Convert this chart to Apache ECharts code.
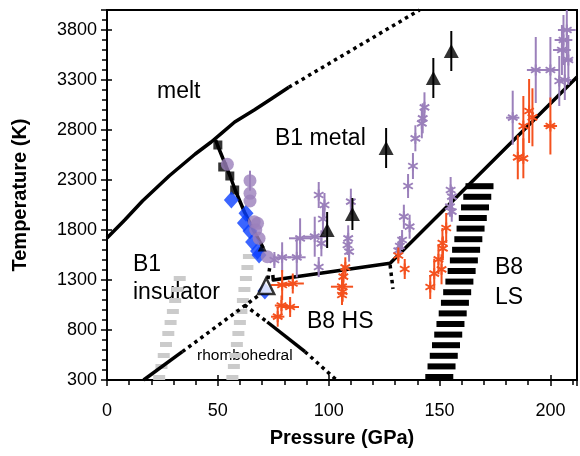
<!DOCTYPE html>
<html><head><meta charset="utf-8">
<script src="https://cdn.jsdelivr.net/npm/echarts@6/dist/echarts.min.js"></script>
<style>html,body{margin:0;padding:0;background:#fff}#c{width:580px;height:456px}</style>
</head><body><div id="c"></div>
<script>
// ---- axis ----
const xTicks = [0, 50, 100, 150, 200];
const yTicks = [300, 800, 1300, 1800, 2300, 2800, 3300, 3800];

// ---- phase boundaries [P (GPa), T (K)] ----
const meltSolid = [[0,1720],[8,1900],[16,2090],[28,2340],[39.8,2560],[47,2680],[51.6,2767],[57.6,2880],[66.4,3000],[74,3110],[82,3227]];
const meltDotted = [[82,3227],[141,4000]];
const b1b8Solid = [[74.8,1350],[75,1300],[127.7,1467],[212,3330]];
const b8Dotted = [[127.7,1450],[129,1210]];
const triDotted = [[72.6,1310],[73.5,1440]];
const rhombASolid = [[16.5,300],[34,583]];
const rhombADotted = [[34,583],[70.5,1180]];
const rhombBDotted1 = [[62,1050],[72.3,880]];
const rhombBSolid = [[72.3,880],[89.3,583]];
const rhombBDotted2 = [[89.3,583],[103.5,300]];
// hatched bands: [P start, T start, P end, T end]
const grayBands = [[23.3,300,33.6,1400],[56.4,300,64.6,1630]];
const blackBands = [[149.6,300,168.8,2320]];

// ---- data points ----
const blackLine = [[49,2700],[50,2640],[55.5,2340],[58,2190],[62,1980],[66.5,1780],[70.5,1620]];
const blackSquares = [[50,2650],[52.2,2430],[55.4,2340],[57.6,2200]];
const purpleCircles = [[54.3,2457],[64.5,2293],[64.5,2167],[64.5,2090],[67.9,1867],[66.4,1883],[67.1,1800],[68.6,1717],[72.3,1533]];
const purpleCircleErr = [[64.5,2293,0,100]];
const blueDiamonds = [[56.1,2100],[62.7,1967],[62,1870],[64.5,1790],[65.7,1680],[67.9,1590],[68.6,1550],[71.2,1190]];
// [P, T, T error]
const blackTriangles = [[99.3,1800,180],[110.7,1960,160],[125.9,2620,200],[147.2,3320,200],[155.3,3590,200]];
const smallBlackTriangle = [[70,1630]];
const openTriangle = [[71.8,1240]];
// [P, T, P error, T error]
const purpleStars = [
 [75.5,1500,0,80],[79,1527,4,150],[85.6,1527,4,200],[87.1,1717,5,200],[93.7,1733,5,200],
 [95.5,2150,0,130],[98.1,2050,0,120],[97.4,1910,0,150],[96.7,1667,0,130],[95.5,1430,0,100],
 [110,2083,0,130],[108.8,1717,0,130],[108.5,1650,0,100],[109.2,1583,0,100],
 [131.4,1593,0,80],[132.1,1640,0,100],[133.1,1700,0,100],[136.5,1833,0,120],[133.9,1933,0,120],
 [135.8,2240,0,120],[138,2440,0,130],[139.1,2717,0,130],[142,2867,0,150],[142.4,2917,0,150],[143.2,3027,0,150],
 [155,2200,0,130],[155.6,2133,0,100],[154.7,2033,0,100],[155.5,1983,0,100],
 [183,2923,3,270],[193.4,3400,4,330],[200,3400,4,330],[204,3290,0,250],[205.2,3600,4,250],
 [205.9,3700,4,250],[207.4,3800,4,300],[208.1,3500,2,250],[206.5,3300,3,200]
];
const redStars = [
 [79,1250,5,150],[83.8,1265,5,100],[78.7,1045,3,100],[82.6,1030,4,100],[77,933,3,100],
 [107.5,1427,0,100],[106.6,1333,0,100],[106,1233,5,140],[106.3,1183,0,100],[106,1150,0,100],
 [131.4,1545,0,80],[134.3,1410,0,100],
 [153,1820,0,150],[151.3,1670,0,150],[151.5,1617,0,120],[149.5,1507,0,150],[150.9,1407,0,150],[147.6,1363,0,150],[145.8,1230,0,120],
 [190.4,2990,0,320],[191.9,2927,0,290],[187.8,2840,0,300],[200,2840,3,285],[185.3,2527,0,220],[187.8,2517,0,200]
];

const PURPLE = '#9b80bb', RED = '#f4511e', BLUE = '#0a3fff', GRAY = '#cbcbcb';
const FONT = '"Liberation Sans", Arial, sans-serif';

function lineSeries(data, width, color, dash, z) {
  return {type:'line', data, symbol:'none', silent:true, z,
    lineStyle:{color, width, type: dash || 'solid', cap:'butt', join:'round'}, clip:true};
}

// band drawn as stacked horizontal bars between two end points
function bandSeries(data, color, barW, barH, period, z) {
  return {type:'custom', data, z, clip:true, silent:true,
    encode:{x:[0,2], y:[1,3]},
    renderItem(params, api){
      const a = api.coord([api.value(0), api.value(1)]);
      const b = api.coord([api.value(2), api.value(3)]);
      const ch = [];
      for (let y = a[1]; y - barH >= b[1] - 0.5; y -= period) {
        const yc = y - barH / 2;
        const f = (a[1] - yc) / (a[1] - b[1]);
        const xc = a[0] + f * (b[0] - a[0]);
        ch.push({type:'rect', shape:{x:xc - barW/2, y:y - barH, width:barW, height:barH}, style:{fill:color}});
      }
      return {type:'group', children:ch};
    }};
}

function starSeries(data, color, z) {
  return {type:'custom', data, z, clip:true, silent:true,
    renderItem(params, api){
      const p = api.value(0), t = api.value(1), xe = api.value(2), ye = api.value(3);
      const c = api.coord([p, t]);
      const st = {stroke: color, lineWidth: 2};
      const ch = [];
      if (ye) { const a = api.coord([p, t - ye]), b = api.coord([p, t + ye]);
        ch.push({type:'line', shape:{x1:a[0], y1:a[1], x2:b[0], y2:b[1]}, style:st}); }
      if (xe) { const a = api.coord([p - xe, t]), b = api.coord([p + xe, t]);
        ch.push({type:'line', shape:{x1:a[0], y1:a[1], x2:b[0], y2:b[1]}, style:st}); }
      const r = 5.5, dx = r * 0.87, dy = r * 0.5;
      ch.push({type:'line', shape:{x1:c[0], y1:c[1]-r, x2:c[0], y2:c[1]+r}, style:st});
      ch.push({type:'line', shape:{x1:c[0]-dx, y1:c[1]-dy, x2:c[0]+dx, y2:c[1]+dy}, style:st});
      ch.push({type:'line', shape:{x1:c[0]-dx, y1:c[1]+dy, x2:c[0]+dx, y2:c[1]-dy}, style:st});
      return {type:'group', children: ch};
    }};
}

function vErrSeries(data, color, z) {
  return {type:'custom', data, z, clip:true, silent:true,
    renderItem(params, api){
      const p = api.value(0), t = api.value(1), e = api.value(2);
      const a = api.coord([p, t - e]), b = api.coord([p, t + e]);
      return {type:'line', shape:{x1:a[0], y1:a[1], x2:b[0], y2:b[1]}, style:{stroke:color, lineWidth:2}};
    }};
}

const chart = echarts.init(document.getElementById('c'), null, {renderer:'canvas'});
const axisCommon = {
  axisLine:{show:true, lineStyle:{color:'#000', width:2}},
  splitLine:{show:false},
};
chart.setOption({
  animation:false,
  backgroundColor:'#fff',
  grid:{left:107, right:-5, top:10, bottom:76, show:true, borderColor:'#000', borderWidth:2, backgroundColor:'transparent'},
  xAxis:[{
    type:'value', min:0, max:212, interval:50,
    ...axisCommon,
    axisTick:{show:true, inside:false, length:6, lineStyle:{color:'#000', width:1.5}},
    minorTick:{show:true, splitNumber:5, length:5, lineStyle:{color:'#000', width:1.5}},
    axisLabel:{color:'#000', fontSize:18, fontFamily:FONT, margin:22,
      formatter: v => xTicks.includes(v) ? String(v) : ''},
    name:'Pressure (GPa)', nameLocation:'middle', nameGap:48,
    nameTextStyle:{color:'#000', fontSize:20, fontWeight:'bold', fontFamily:FONT}
  },{
    type:'value', min:0, max:212, interval:50, position:'bottom',
    axisLine:{show:false}, splitLine:{show:false}, axisLabel:{show:false},
    axisTick:{show:true, inside:true, length:5, lineStyle:{color:'#000', width:1.5}}
  }],
  yAxis:[{
    type:'value', min:300, max:4000, interval:500,
    ...axisCommon,
    axisTick:{show:true, inside:false, length:6, lineStyle:{color:'#000', width:1.5}},
    minorTick:{show:true, splitNumber:5, length:5, lineStyle:{color:'#000', width:1.5}},
    axisLabel:{color:'#000', fontSize:18, fontFamily:FONT, margin:10,
      formatter: v => yTicks.includes(v) ? String(v) : ''},
    name:'Temperature (K)', nameLocation:'middle', nameGap:77,
    nameTextStyle:{color:'#000', fontSize:20, fontWeight:'bold', fontFamily:FONT}
  },{
    type:'value', min:300, max:4000, interval:500, position:'left',
    axisLine:{show:false}, splitLine:{show:false}, axisLabel:{show:false},
    axisTick:{show:true, inside:true, length:5, lineStyle:{color:'#000', width:1.5}}
  }],
  series:[
    bandSeries(grayBands, GRAY, 12, 5, 11, 1),
    bandSeries(blackBands, '#000', 28, 6, 10.6, 1),
    lineSeries(meltSolid, 3.5, '#000', null, 2),
    lineSeries(meltDotted, 3.5, '#000', [3.5,4], 2),
    lineSeries(b1b8Solid, 3.5, '#000', null, 2),
    lineSeries(b8Dotted, 3.5, '#000', [3.5,4], 2),
    lineSeries(triDotted, 3.5, '#000', [3.5,4], 2),
    lineSeries(rhombASolid, 3.5, '#000', null, 2),
    lineSeries(rhombADotted, 3.5, '#000', [3.5,4], 2),
    lineSeries(rhombBDotted1, 3.5, '#000', [3.5,4], 2),
    lineSeries(rhombBSolid, 3.5, '#000', null, 2),
    lineSeries(rhombBDotted2, 3.5, '#000', [3.5,4], 2),
    starSeries(purpleStars, PURPLE, 4),
    starSeries(redStars, RED, 5),
    lineSeries(blackLine, 3.5, '#000', null, 6),
    {type:'scatter', data:blackSquares, symbol:'rect', symbolSize:9, itemStyle:{color:'#000'}, z:6, silent:true},
    {type:'scatter', data:blueDiamonds, symbol:'diamond', symbolSize:[15,17], itemStyle:{color:BLUE}, z:7, silent:true},
    vErrSeries(purpleCircleErr.map(d => [d[0], d[1], d[3]]), PURPLE, 7),
    {type:'scatter', data:purpleCircles, symbol:'circle', symbolSize:13, itemStyle:{color:PURPLE}, z:8, silent:true},
    vErrSeries(blackTriangles, '#000', 8),
    {type:'scatter', data:blackTriangles.map(d => [d[0], d[1]]), symbol:'triangle', symbolSize:[15,14], itemStyle:{color:'#000'}, z:9, silent:true},
    {type:'scatter', data:smallBlackTriangle, symbol:'triangle', symbolSize:[9,9], itemStyle:{color:'#000'}, z:9, silent:true},
    {type:'scatter', data:openTriangle, symbol:'triangle', symbolSize:[16,16], itemStyle:{color:'#fff', borderColor:'#000', borderWidth:2.5}, z:9, silent:true}
  ],
  graphic:[
    {type:'text', left:157, top:80, style:{text:'melt', font:'23px '+FONT, fill:'#000'}},
    {type:'text', left:275, top:127, style:{text:'B1 metal', font:'23px '+FONT, fill:'#000'}},
    {type:'text', left:133, top:253, style:{text:'B1', font:'23px '+FONT, fill:'#000'}},
    {type:'text', left:133, top:281, style:{text:'insulator', font:'23px '+FONT, fill:'#000'}},
    {type:'text', left:307, top:310, style:{text:'B8 HS', font:'23px '+FONT, fill:'#000'}},
    {type:'text', left:495, top:256, style:{text:'B8', font:'23px '+FONT, fill:'#000'}},
    {type:'text', left:495, top:286, style:{text:'LS', font:'23px '+FONT, fill:'#000'}},
    {type:'text', left:197, top:348, style:{text:'rhombohedral', font:'15.5px '+FONT, fill:'#000'}}
  ]
});
</script></body></html>
